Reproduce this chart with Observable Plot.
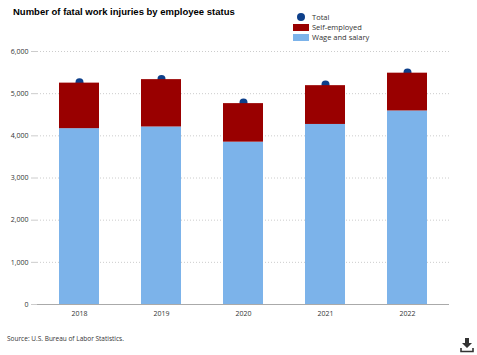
<!DOCTYPE html>
<html>
<head>
<meta charset="utf-8">
<script src="https://cdn.jsdelivr.net/npm/d3@7"></script>
<script src="https://cdn.jsdelivr.net/npm/@observablehq/plot@0.6"></script>
<style>
  body { margin: 0; background: #fff; }
  #wrap { position: relative; width: 477px; height: 355px; overflow: hidden; font-family: "Open Sans", sans-serif; }
  #title { position: absolute; left: 13px; top: 6px; font: bold 9.5px "Liberation Sans", Arial, sans-serif; color: #000; white-space: nowrap; }
  #legend { position: absolute; left: 293px; top: 12px; font-size: 7.5px; color: #333; }
  .li { display: flex; align-items: center; height: 10px; }
  .sw { width: 16px; height: 7px; margin-right: 3px; }
  .dotsw { width: 16px; display: flex; justify-content: center; margin-right: 3px; }
  .dotsw span { width: 8px; height: 8px; border-radius: 50%; background: #0d3f8a; display: block; }
  #source { position: absolute; left: 7px; top: 334px; font-size: 6.5px; color: #333; white-space: nowrap; }
  #dl { position: absolute; left: 460px; top: 337px; }
  #chart { position: absolute; left: 0; top: 0; }
</style>
</head>
<body>
<div id="wrap">
  <div id="chart"></div>
  <div id="title">Number of fatal work injuries by employee status</div>
  <div id="legend">
    <div class="li"><div class="dotsw"><span></span></div>Total</div>
    <div class="li"><div class="sw" style="background:#990000"></div>Self-employed</div>
    <div class="li"><div class="sw" style="background:#7cb3ea"></div>Wage and salary</div>
  </div>
  <div id="source">Source: U.S. Bureau of Labor Statistics.</div>
  <svg id="dl" width="14" height="16" viewBox="0 0 14 16">
    <path d="M5 1h4v5h3l-5 5-5-5h3z" fill="#333"/>
    <path d="M1 11v3.5h12V11" fill="none" stroke="#333" stroke-width="1.6"/>
  </svg>
</div>
<script>
const years = ["2018", "2019", "2020", "2021", "2022"];
const wageAndSalary = [4170, 4210, 3850, 4270, 4590];
const selfEmployed = [1080, 1123, 914, 920, 896];
const total = [5270, 5350, 4790, 5220, 5500];
const yTicks = [0, 1000, 2000, 3000, 4000, 5000, 6000];

const stackRows = [];
years.forEach((y, i) => {
  stackRows.push({year: y, series: "Wage and salary", value: wageAndSalary[i]});
  stackRows.push({year: y, series: "Self-employed", value: selfEmployed[i]});
});
const totals = years.map((y, i) => ({year: y, value: total[i]}));

const chart = Plot.plot({
  width: 477,
  height: 355,
  marginTop: 51,
  marginBottom: 51,
  marginLeft: 37,
  marginRight: 28,
  style: {fontFamily: "'Open Sans', sans-serif", fontSize: "7px", color: "#333", background: "transparent"},
  x: {domain: years, paddingInner: 0.514, paddingOuter: 0.264, label: null},
  y: {domain: [0, 6000], label: null},
  color: {domain: ["Wage and salary", "Self-employed"], range: ["#7cb3ea", "#990000"]},
  marks: [
    Plot.ruleY(yTicks.filter(d => d > 0), {stroke: "#ccc", strokeDasharray: "1,2", strokeWidth: 1}),
    Plot.dot(totals, {x: "year", y: "value", r: 4, fill: "#0d3f8a"}),
    Plot.barY(stackRows, {x: "year", y: "value", fill: "series", order: ["Wage and salary", "Self-employed"]}),
    Plot.axisY({ticks: yTicks, tickFormat: d => d3.format(",")(d), tickSize: 6, tickPadding: 3, stroke: "#ccc", fill: "#333"}),
    Plot.ruleX([0], {frameAnchor: "left", stroke: "#aaa"}),
    Plot.ruleY([0], {stroke: "#aaa"}),
    Plot.axisX({tickSize: 0, tickPadding: 7, fill: "#333"})
  ]
});
document.getElementById("chart").appendChild(chart);
</script>
</body>
</html>
